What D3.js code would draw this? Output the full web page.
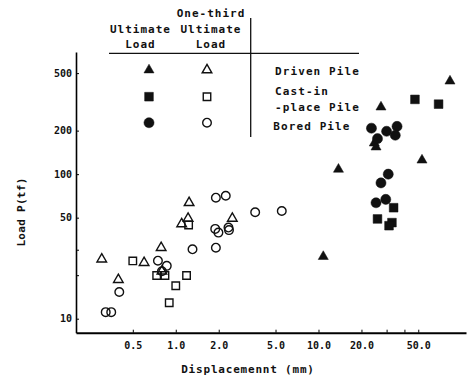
<!DOCTYPE html>
<html>
<head>
<meta charset="utf-8">
<script src="https://cdn.jsdelivr.net/npm/d3@7"></script>
<style>
body { margin: 0; background: #fff; }
text { font-family: "DejaVu Sans Mono", monospace; font-weight: bold; fill: #111; }
</style>
</head>
<body>
<script>
// data: [displacement mm, load tf]
var drivenUlt = [[27.4, 291], [83.4, 440], [24.6, 164], [25.3, 154], [13.8, 108], [53.1, 125], [10.8, 26.9]];
var drivenThird = [[0.303, 25.8], [0.396, 18.6], [0.60, 24.4], [0.79, 31.0], [1.24, 63.4], [1.22, 49.4], [1.10, 45.2], [2.49, 49.4], [0.80, 21.3]];
var castUlt = [[47.4, 329], [69.4, 305], [33.6, 58.6], [25.9, 49], [32.7, 46.2], [31.2, 44.0]];
var castThird = [[0.50, 25.1], [0.735, 19.9], [0.84, 19.9], [1.0, 16.9], [0.90, 12.9], [1.19, 19.9], [1.23, 44.5]];
var boredUlt = [[23.5, 208], [25.9, 176], [30.0, 198], [35.5, 214], [34.5, 186], [30.8, 100], [27.4, 87], [25.3, 63.4], [29.6, 66.9]];
var boredThird = [[0.323, 11.1], [0.353, 11.1], [0.402, 15.3], [0.75, 25.2], [0.865, 23.2], [0.80, 21.3], [1.31, 30.2],
  [1.91, 68.7], [2.24, 70.9], [1.89, 41.8], [1.99, 39.4], [2.34, 42.7], [2.36, 41.0], [1.91, 31.0], [3.60, 54.5], [5.53, 55.6]];

var xTicks = [0.5, 1, 2, 5, 10, 20, 50];
var xTickLabels = ["0.5", "1.0", "2.0", "5.0", "10.0", "20.0", "50.0"];
var xMinor = [30, 40];
var yTicks = [10, 50, 100, 200, 500];
var yMinor = [20, 30];

var legendRows = ["Driven Pile", "Cast-in\n-place Pile", "Bored Pile"];

var width = 474, height = 379;

var x = d3.scaleLog().domain([0.2, 108]).range([76, 466]);
var y = d3.scaleLog().domain([8, 700]).range([332.7, 52]);

var svg = d3.select("body").append("svg")
    .attr("width", width)
    .attr("height", height);

// axes, ticks point inward
var xAxis = svg.append("g")
    .attr("transform", "translate(0,332.7)")
    .call(d3.axisBottom(x).tickValues(xTicks.concat(xMinor))
      .tickFormat(function(d) { var i = xTicks.indexOf(d); return i < 0 ? "" : xTickLabels[i]; })
      .tickSize(-3).tickSizeOuter(0).tickPadding(9));
xAxis.select(".domain").attr("stroke-width", 2);

var yAxis = svg.append("g")
    .attr("transform", "translate(76,0)")
    .call(d3.axisLeft(y).tickValues(yTicks.concat(yMinor))
      .tickFormat(function(d) { return yTicks.indexOf(d) < 0 ? "" : d; })
      .tickSize(-3).tickSizeOuter(0).tickPadding(4));
yAxis.select(".domain").attr("stroke-width", 1.6);

svg.selectAll(".tick text")
    .style("font-family", "'DejaVu Sans Mono', monospace")
    .style("font-weight", "bold")
    .style("font-size", "10px")
    .attr("fill", "#111");

svg.append("text")
    .attr("x", 248).attr("y", 372.5)
    .attr("text-anchor", "middle")
    .style("font-size", "11px").style("letter-spacing", "0.8px")
    .text("Displacemennt (mm)");

svg.append("text")
    .attr("transform", "translate(25,212) rotate(-90)")
    .attr("text-anchor", "middle")
    .style("font-size", "11px").style("letter-spacing", "0.3px")
    .text("Load P(tf)");

// legend frame
svg.append("line").attr("x1", 109).attr("x2", 359).attr("y1", 53.3).attr("y2", 53.3)
    .attr("stroke", "#111").attr("stroke-width", 1.3);
svg.append("line").attr("x1", 250.7).attr("x2", 250.7).attr("y1", 18).attr("y2", 137)
    .attr("stroke", "#111").attr("stroke-width", 1.3);

function header(lines, cx, y0) {
  lines.forEach(function(s, i) {
    svg.append("text")
        .attr("x", cx).attr("y", y0 + i * 15.3)
        .attr("text-anchor", "middle")
        .style("font-size", "11px").style("letter-spacing", "1px")
        .text(s);
  });
}
header(["Ultimate", "Load"], 140.5, 32.5);
header(["One-third", "Ultimate", "Load"], 211, 17.2);

legendRows.forEach(function(s, i) {
  var ys = [75.3, 95, 129.7];
  s.split("\n").forEach(function(part, j) {
    svg.append("text")
        .attr("x", i == 2 ? 273.3 : 275).attr("y", ys[i] + j * 16)
        .style("font-size", "11px").style("letter-spacing", "1.1px")
        .text(part);
  });
});

// markers
var shapes = [
  {data: drivenUlt, type: d3.symbolTriangle, size: 44, filled: true},
  {data: drivenThird, type: d3.symbolTriangle, size: 40, filled: false},
  {data: castUlt, type: d3.symbolSquare, size: 76, filled: true},
  {data: castThird, type: d3.symbolSquare, size: 56, filled: false},
  {data: boredUlt, type: d3.symbolCircle, size: 80, filled: true},
  {data: boredThird, type: d3.symbolCircle, size: 58, filled: false}
];

function drawMarks(sel, s) {
  sel.attr("d", d3.symbol().type(s.type).size(s.size))
    .attr("fill", s.filled ? "#111" : "none")
    .attr("stroke", "#111")
    .attr("stroke-width", s.filled ? 0.5 : 1.4);
}

shapes.forEach(function(s) {
  svg.append("g").selectAll("path")
      .data(s.data)
    .enter().append("path")
      .attr("transform", function(d) { return "translate(" + x(d[0]) + "," + y(d[1]) + ")"; })
      .call(drawMarks, s);
});

// legend symbols
var legendY = [70, 96.7, 122.7];
shapes.forEach(function(s, i) {
  var row = Math.floor(i / 2), col = i % 2;
  svg.append("path")
      .attr("transform", "translate(" + (col ? 207 : 149) + "," + legendY[row] + ")")
      .call(drawMarks, s);
});
</script>
</body>
</html>
